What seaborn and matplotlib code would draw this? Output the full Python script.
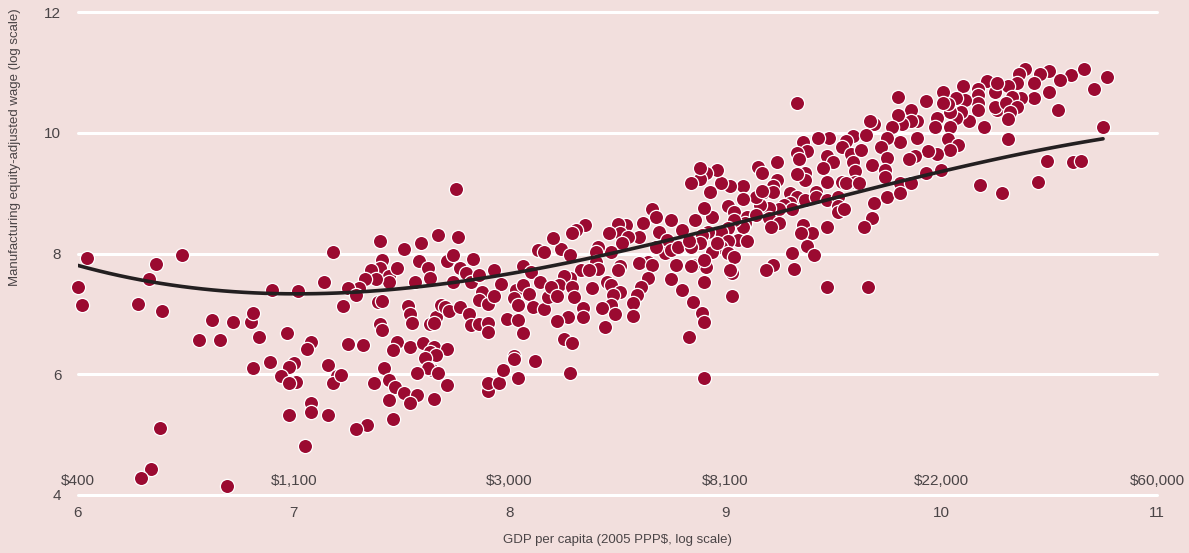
import matplotlib
matplotlib.use("Agg")
import matplotlib.pyplot as plt
from matplotlib import font_manager
import seaborn as sns
import pandas as pd

# ---- data (log GDP per capita, log manufacturing equity-adjusted wage) ----
gdp_log = [
    # low income
    6.00, 6.02, 6.04, 6.28, 6.33, 6.36, 6.39, 6.48, 6.38, 6.34, 6.29, 6.69,
    6.56, 6.62, 6.66, 6.72, 6.80, 6.81, 6.84, 6.81, 6.89, 6.97, 7.08, 7.06,
    7.00, 6.98, 6.94, 7.01, 6.98, 7.16, 7.20, 7.18, 7.08, 7.08, 6.98, 7.16,
    7.05, 7.14, 7.02, 6.90, 7.18,
    # lower-middle
    7.40, 7.51, 7.59, 7.67, 7.76, 7.41, 7.40, 7.36, 7.44, 7.44, 7.48, 7.38,
    7.33, 7.30, 7.25, 7.29, 7.23, 7.39, 7.41, 7.56, 7.58, 7.62, 7.63, 7.71,
    7.74, 7.83, 7.77, 7.80, 7.74, 7.82, 7.86, 7.87, 7.93, 7.96, 7.86, 7.90,
    7.93, 8.06, 8.10, 8.13, 8.16, 8.14, 8.03, 8.06, 8.02, 8.04, 8.09, 8.11,
    8.16, 8.18, 7.99, 8.04, 8.06, 7.53, 7.54, 7.55, 7.63, 7.66, 7.65, 7.68,
    7.70, 7.72, 7.77, 7.81, 7.82, 7.86, 7.90, 7.90, 7.40, 7.41, 7.25, 7.32,
    7.48, 7.46, 7.54, 7.60, 7.65, 7.63, 7.71, 7.66, 7.61, 7.64, 7.62, 7.57,
    7.67, 7.42, 7.22, 7.37, 7.44, 7.47, 7.51, 7.57, 7.54, 7.44, 7.65, 7.71,
    7.46, 7.34, 7.29, 7.90, 7.90, 7.95, 7.97, 8.02, 8.02, 8.04, 8.12, 7.75,
    # middle
    8.66, 8.68, 8.75, 8.62, 8.60, 8.69, 8.73, 8.72, 8.75, 8.78, 8.77, 8.75,
    8.68, 8.64, 8.60, 8.66, 8.64, 8.61, 8.59, 8.57, 8.57, 8.54, 8.50, 8.51,
    8.46, 8.55, 8.52, 8.47, 8.41, 8.40, 8.40, 8.41, 8.51, 8.50, 8.45, 8.47,
    8.51, 8.48, 8.47, 8.43, 8.49, 8.44, 8.35, 8.31, 8.29, 8.24, 8.20, 8.28,
    8.33, 8.28, 8.25, 8.23, 8.29, 8.19, 8.30, 8.22, 8.37, 8.38, 8.34, 8.34,
    8.27, 8.22, 8.25, 8.29, 8.28,
    # upper-middle
    9.59, 9.56, 9.54, 9.58, 9.59, 9.60, 9.48, 9.43, 9.36, 9.38, 9.33, 9.34,
    9.47, 9.50, 9.45, 9.47, 9.54, 9.60, 9.56, 9.37, 9.37, 9.33, 9.24, 9.15,
    9.17, 9.24, 9.22, 9.18, 9.22, 9.30, 9.33, 9.37, 9.42, 9.42, 9.47, 9.52,
    9.52, 9.52, 9.55, 9.47, 9.36, 9.40, 9.35, 9.38, 9.41, 9.31, 9.32, 9.22,
    9.19, 9.47, 9.30, 9.27, 9.31, 9.25, 9.20, 9.16, 9.14, 9.17, 9.08, 9.08,
    9.02, 8.98, 8.96, 8.91, 8.88, 8.88, 8.84, 8.93, 9.01, 9.04, 9.10, 9.14,
    9.20, 9.25, 9.21, 9.09, 9.08, 9.04, 9.01, 8.98, 8.94, 8.90, 8.86, 8.92,
    8.89, 8.80, 9.06, 9.01, 9.10, 8.98, 8.94, 8.88, 8.84, 9.01, 9.04, 8.91,
    8.85, 9.03, 8.90, 8.80, 8.85, 8.89, 9.03, 8.83, 8.90, 8.90, 9.33, 8.83,
    8.96, 8.90, 9.02, 8.84,
    # high
    10.21, 10.25, 10.17, 10.17, 10.26, 10.25, 10.20, 10.17, 10.17, 10.13,
    10.10, 10.11, 10.07, 10.09, 10.07, 10.04, 10.03, 10.01, 10.01, 9.98,
    9.93, 9.97, 10.04, 10.03, 10.08, 10.04, 9.98, 9.94, 9.88, 9.85, 9.89,
    9.89, 9.86, 9.86, 9.82, 9.80, 9.80, 9.77, 9.81, 9.75, 9.72, 9.75, 9.69,
    9.67, 9.65, 9.63, 9.68, 9.74, 9.74, 9.62, 9.69, 9.75, 9.81, 9.81, 9.86,
    9.93, 10.00, 10.18, 9.68, 9.64, 9.66,
    10.39, 10.50, 10.46, 10.36, 10.60, 10.66, 10.77, 10.55, 10.43, 10.35,
    10.31, 10.71, 10.50, 10.43, 10.37, 10.33, 10.30, 10.35, 10.32, 10.31,
    10.54, 10.75, 10.31, 10.49, 10.61, 10.65, 10.45, 10.28, 10.26,
]

wage_log = [
    # low income
    7.45, 7.15, 7.93, 7.17, 7.57, 7.83, 7.05, 7.98, 5.11, 4.43, 4.28, 4.15,
    6.57, 6.90, 6.57, 6.87, 6.87, 7.02, 6.62, 6.11, 6.21, 6.69, 6.54, 6.42,
    6.19, 6.12, 5.97, 5.87, 5.86, 6.16, 5.97, 5.86, 5.53, 5.38, 5.33, 5.33,
    4.81, 7.52, 7.38, 7.40, 8.03,
    # lower-middle
    8.20, 8.08, 8.18, 8.31, 8.28, 7.90, 7.76, 7.73, 7.62, 7.52, 7.76, 7.57,
    7.57, 7.43, 7.43, 7.32, 7.13, 7.20, 7.22, 7.52, 7.88, 7.76, 7.60, 7.88,
    7.98, 7.91, 7.76, 7.68, 7.53, 7.53, 7.65, 7.37, 7.73, 7.50, 7.23, 7.17,
    7.30, 7.80, 7.70, 8.05, 8.03, 7.52, 7.40, 7.47, 7.27, 7.15, 7.33, 7.12,
    7.08, 7.28, 6.92, 6.90, 6.69, 7.13, 6.99, 6.85, 6.84, 6.95, 6.85, 7.15,
    7.12, 7.05, 7.12, 6.99, 6.82, 6.84, 6.85, 6.70, 6.84, 6.74, 6.50, 6.49,
    6.54, 6.40, 6.45, 6.52, 6.45, 6.37, 6.42, 6.32, 6.27, 6.07, 6.11, 6.02,
    6.02, 6.11, 5.99, 5.86, 5.91, 5.79, 5.69, 5.66, 5.53, 5.58, 5.59, 5.82,
    5.26, 5.16, 5.09, 5.72, 5.86, 5.86, 6.07, 6.31, 6.26, 5.94, 6.22, 9.07,
    # middle
    8.74, 8.61, 8.56, 8.51, 8.28, 8.36, 8.23, 8.01, 8.06, 8.11, 7.81, 7.57,
    8.11, 7.86, 7.85, 7.81, 7.60, 7.45, 7.32, 7.18, 6.97, 8.48, 8.49, 8.34,
    8.34, 8.28, 8.18, 8.03, 8.11, 8.03, 7.86, 7.75, 7.80, 7.73, 7.53, 7.48,
    7.37, 7.32, 7.15, 7.10, 6.99, 6.79, 8.48, 8.39, 8.34, 8.08, 8.25, 7.98,
    7.73, 7.60, 7.63, 7.48, 7.45, 7.45, 7.28, 7.30, 7.73, 7.43, 7.10, 6.94,
    6.94, 6.89, 6.59, 6.52, 6.02,
    # upper-middle
    9.94, 9.87, 9.77, 9.64, 9.52, 9.36, 9.92, 9.92, 9.85, 9.69, 9.67, 9.56,
    9.61, 9.51, 9.42, 9.19, 9.19, 9.19, 9.17, 9.34, 9.22, 9.31, 9.51, 9.44,
    9.34, 9.22, 9.11, 9.02, 9.02, 9.01, 8.94, 8.89, 9.02, 8.94, 8.89, 8.94,
    8.78, 8.68, 8.73, 8.44, 8.48, 8.34, 8.34, 8.13, 7.98, 8.01, 7.75, 7.81,
    7.73, 7.45, 8.84, 8.81, 8.74, 8.73, 8.76, 8.81, 8.94, 9.04, 9.11, 8.91,
    9.11, 9.17, 9.39, 9.34, 9.24, 9.41, 9.17, 9.02, 8.78, 8.69, 8.61, 8.64,
    8.59, 8.51, 8.44, 8.51, 8.44, 8.56, 8.43, 8.36, 8.61, 8.76, 8.56, 8.36,
    8.31, 8.39, 8.23, 8.20, 8.20, 8.11, 8.03, 8.18, 8.10, 8.01, 7.95, 7.78,
    7.81, 7.68, 7.52, 7.40, 7.20, 7.02, 7.30, 6.62, 6.87, 5.94, 10.50, 8.20,
    8.18, 7.90, 7.73, 7.80,
    # high
    10.85, 10.68, 10.72, 10.63, 10.38, 10.43, 10.09, 10.50, 10.38, 10.19,
    10.77, 10.55, 10.58, 10.35, 10.25, 10.34, 10.47, 10.68, 10.50, 10.25,
    10.52, 10.10, 10.09, 9.89, 9.80, 9.72, 9.64, 9.69, 9.61, 9.57, 9.92,
    10.19, 10.38, 10.19, 10.14, 10.60, 10.30, 10.09, 9.85, 9.92, 9.77, 9.59,
    10.14, 10.19, 9.97, 9.72, 9.47, 9.39, 9.27, 9.17, 8.83, 8.94, 9.17, 9.01,
    9.17, 9.34, 9.39, 9.14, 8.59, 8.44, 7.45,
    11.06, 11.03, 10.98, 10.97, 10.95, 11.05, 10.93, 10.87, 10.83, 10.83,
    10.78, 10.73, 10.67, 10.58, 10.57, 10.60, 10.50, 10.43, 10.35, 10.22,
    10.37, 10.10, 9.90, 9.54, 9.51, 9.54, 9.19, 9.01, 10.83,
]

# fitted curve, points (smoothed by seaborn's polynomial fit)
fit_x = [6.0, 6.33, 6.5, 6.75, 7.0, 7.26, 7.49, 7.72, 7.96, 8.09, 8.42, 8.56,
         8.79, 9.02, 9.25, 9.72, 10.0, 10.27, 10.5, 10.75]
fit_y = [7.78, 7.55, 7.47, 7.37, 7.33, 7.35, 7.40, 7.50, 7.62, 7.73, 7.95, 8.10,
         8.28, 8.48, 8.68, 9.11, 9.34, 9.59, 9.74, 9.90]

x_ticks = [6, 7, 8, 9, 10, 11]
dollar_labels = ["$400", "$1,100", "$3,000", "$8,100", "$22,000", "$60,000"]
y_ticks = [4, 6, 8, 10, 12]

BG = "#F2DFDD"
DOT = "#9B0A31"
TXT = "#4A4446"

sns.set_theme(style="white", rc={"axes.facecolor": BG, "figure.facecolor": BG})
avail = {f.name for f in font_manager.fontManager.ttflist}
fam = "Liberation Sans Narrow" if "Liberation Sans Narrow" in avail else "Liberation Sans"
plt.rcParams["font.family"] = [fam, "DejaVu Sans"]

fig = plt.figure(figsize=(11.89, 5.53), dpi=100)
ax = fig.add_axes([78 / 1189, 1 - 495 / 553, (1157 - 78) / 1189, (495 - 12) / 553])
ax.set_facecolor(BG)

for yv in y_ticks:
    ax.axhline(yv, color="white", lw=2.2, zorder=0, clip_on=False)

df = pd.DataFrame({"gdp": gdp_log, "wage": wage_log})
sns.scatterplot(data=df, x="gdp", y="wage", ax=ax, s=105, color=DOT,
                edgecolor="white", linewidth=0.9, zorder=3, clip_on=False)

fit = pd.DataFrame({"x": fit_x, "y": fit_y})
sns.regplot(data=fit, x="x", y="y", ax=ax, order=3, ci=None, scatter=False,
            truncate=True, line_kws={"color": "#231F20", "lw": 2.6,
                                     "zorder": 4, "solid_capstyle": "round"})

ax.set_xlim(6, 11)
ax.set_ylim(4, 12)
ax.set_xticks(x_ticks)
ax.set_xticklabels([str(v) for v in x_ticks])
ax.set_yticks(y_ticks)
ax.set_yticklabels([str(v) for v in y_ticks])
ax.tick_params(axis="both", length=0, labelsize=11, colors=TXT)
ax.tick_params(axis="x", pad=8)
ax.tick_params(axis="y", pad=12)
for s in ax.spines.values():
    s.set_visible(False)
ax.grid(False)

for xv, lab in zip(x_ticks, dollar_labels):
    ax.text(xv, 4.23, lab, ha="center", va="center", fontsize=11, color=TXT,
            zorder=2)

ax.set_xlabel("")
ax.set_ylabel("")
fig.text((78 + 1157) / 2 / 1189, 1 - 540 / 553,
         "GDP per capita (2005 PPP$, log scale)", ha="center", va="center",
         fontsize=9.5, color=TXT)
fig.text(15 / 1189, 1 - 8 / 553,
         "Manufacturing equity-adjusted wage (log scale)", ha="center",
         va="top", rotation=90, fontsize=9.5, color=TXT)

fig.savefig("out.png", dpi=100, facecolor=BG)
